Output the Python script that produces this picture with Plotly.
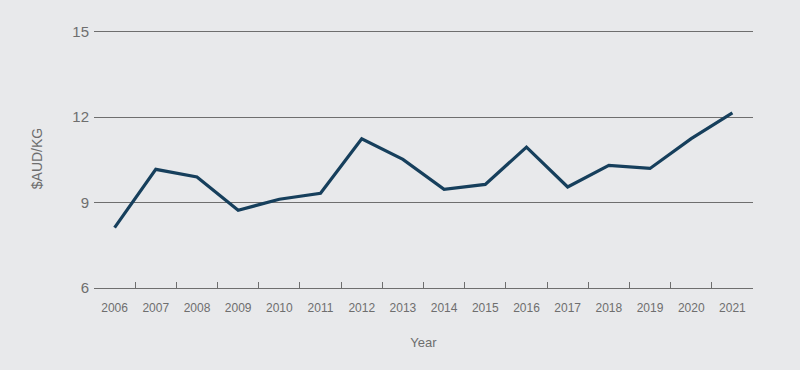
import plotly.graph_objects as go

years = ["2006", "2007", "2008", "2009", "2010", "2011", "2012", "2013",
         "2014", "2015", "2016", "2017", "2018", "2019", "2020", "2021"]
price = [8.12, 10.17, 9.9, 8.73, 9.12, 9.33, 11.24, 10.52,
         9.47, 9.64, 10.95, 9.55, 10.31, 10.2, 11.25, 12.15]
y_ticks = [6, 9, 12, 15]

bg = "#e8e9eb"
grey = "#6e6e6e"
font_family = "Liberation Sans, Arial, sans-serif"

fig = go.Figure(go.Scatter(
    x=years, y=price, mode="lines",
    line=dict(color="#163f5c", width=3.2),
    hoverinfo="skip",
))

fig.update_layout(
    width=800, height=370,
    paper_bgcolor=bg, plot_bgcolor=bg,
    margin=dict(l=94, r=47, t=29, b=82),
    showlegend=False,
    font=dict(family=font_family, color=grey),
    xaxis=dict(
        type="category",
        range=[-0.5, len(years) - 0.5],
        tickson="boundaries",
        ticks="inside", ticklen=6, tickcolor=grey, tickwidth=1,
        showline=True, linecolor=grey, linewidth=1.2,
        showgrid=False, zeroline=False,
        tickfont=dict(size=12, color=grey),
        ticklabelstandoff=8,
        title=dict(text="Year", font=dict(size=13, color=grey), standoff=24),
    ),
    yaxis=dict(
        range=[6, 15.1],
        tickvals=y_ticks,
        ticks="", showline=False,
        showgrid=True, gridcolor=grey, gridwidth=1,
        zeroline=False,
        tickfont=dict(size=15, color=grey),
        ticklabelstandoff=4,
        title=dict(text="$AUD/KG", font=dict(size=14, color=grey), standoff=26),
    ),
)

fig.write_html("out.html", config={"displayModeBar": False},
               post_script="document.body.style.margin='0';")
